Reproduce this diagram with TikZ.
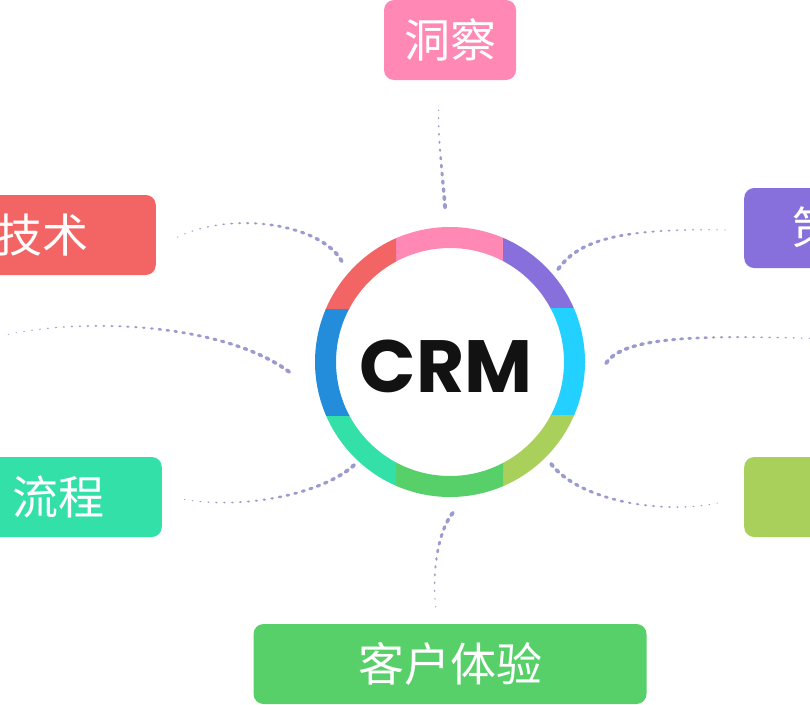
\documentclass[tikz,border=0pt]{standalone}
\usepackage{fontspec}
\usepackage{xcolor}
\usepackage{tikz}
\usetikzlibrary{positioning, decorations.markings}

\newfontfamily\cjk{Noto Sans CJK SC}
\newfontfamily\crmfont{Poppins}

\definecolor{pinkc}{HTML}{FF88B4}
\definecolor{purplec}{HTML}{8870DC}
\definecolor{cyanc}{HTML}{22D1FF}
\definecolor{limec}{HTML}{A8D05A}
\definecolor{greenc}{HTML}{58D06A}
\definecolor{tealc}{HTML}{33E0A8}
\definecolor{bluec}{HTML}{238DDC}
\definecolor{redc}{HTML}{F36565}
\definecolor{linkc}{HTML}{9A9CD0}

\tikzset{
  box/.style={rounded corners=10pt, minimum height=80pt, inner ysep=0pt,
    text=white, font=\cjk\fontsize{46}{50}\selectfont},
  link/.style={decorate, decoration={markings,
    mark=between positions 0 and 1 step 8pt with {
      \pgfmathsetmacro\dotr{2.1-1.6*\pgfkeysvalueof{/pgf/decoration/mark info/distance from start}/\pgfdecoratedpathlength}
      \pgfmathsetmacro\dotl{1.5*\dotr}
      \fill[linkc] (0,0) ellipse [x radius=\dotl pt, y radius=\dotr pt];}}}
}

\begin{document}
\begin{tikzpicture}[x=1pt, y=-1pt]
  \useasboundingbox (0,0) rectangle (810,704);
  \clip (0,0) rectangle (810,704);

  % ring in eight pieces
  \node[circle, minimum size=270pt, inner sep=0pt] (ring) at (450,362) {};
  \foreach \xa/\ya/\xb/\yb/\col in {396/200/503/308/pinkc, 503/200/600/308/purplec,
      503/308/600/415/cyanc, 503/415/600/520/limec, 396/415/503/520/greenc,
      300/415/396/520/tealc, 300/308/396/415/bluec, 300/200/396/308/redc}{
    \begin{scope}
      \clip (\xa,\ya) rectangle (\xb,\yb);
      \fill[\col, even odd rule] (ring.center) circle (135pt) circle (114pt);
    \end{scope}
  }
  \node[font=\crmfont\bfseries\fontsize{74}{80}\selectfont, text=black!93] (crm) at (446,366) {CRM};

  % boxes
  \node[box, fill=pinkc, minimum width=132pt] (dongcha) at (450,40) {洞察};
  \node[box, fill=redc, anchor=east, inner xsep=67pt] (jishu) at (156,235) {技术};
  \node[box, fill=tealc, anchor=east, inner xsep=57pt] (liucheng) at (162,497) {流程};
  \node[box, fill=purplec, anchor=west, inner xsep=48pt] (celue) at (744,228) {策};
  \node[box, fill=limec, anchor=west, minimum width=150pt] (right) at (744,497) {};
  \node[box, fill=greenc, minimum width=393pt] (tiyan) at (450,664) {客户体验};

  % connectors
  \coordinate (s1) at (445,206);  \coordinate (e1) at (439,103);
  \coordinate (s2) at (341,260);  \coordinate (e2) at (172,240);
  \coordinate (s3) at (288,371);  \coordinate (e3) at (5,335);
  \coordinate (s4) at (353,466);  \coordinate (e4) at (182,499);
  \coordinate (s5) at (452,514);  \coordinate (e5) at (436,609);
  \coordinate (s6) at (552,465);  \coordinate (e6) at (718,503);
  \coordinate (s7) at (607,362);  \coordinate (e7) at (830,339);
  \coordinate (s8) at (559,268);  \coordinate (e8) at (728,230);

  \draw[link] (s1) .. controls (442,170) and (437,130) .. (e1);
  \draw[link] (s2) .. controls (318,222) and (225,210) .. (e2);
  \draw[link] (s3) .. controls (220,322) and (80,318) .. (e3);
  \draw[link] (s4) .. controls (320,495) and (240,510) .. (e4);
  \draw[link] (s5) .. controls (436,535) and (432,580) .. (e5);
  \draw[link] (s6) .. controls (580,500) and (660,515) .. (e6);
  \draw[link] (s7) .. controls (625,338) and (690,334) .. (e7);
  \draw[link] (s8) .. controls (580,240) and (620,228) .. (e8);
\end{tikzpicture}
\end{document}
